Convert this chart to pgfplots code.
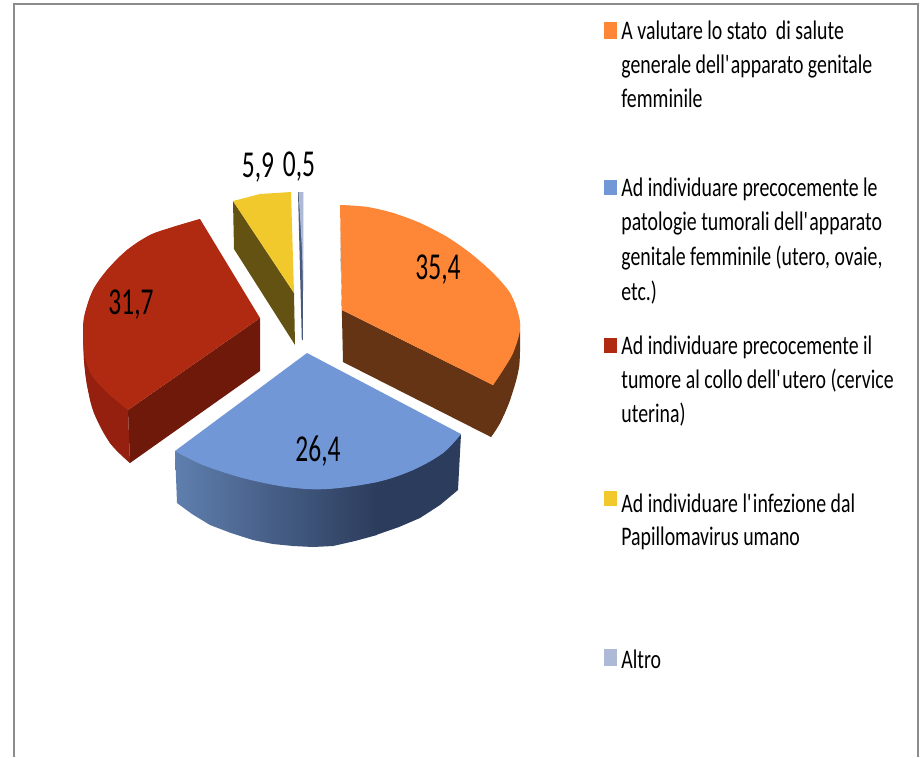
\documentclass[border=0pt]{standalone}
\usepackage{fontspec}
\usepackage{pgfplots}
\pgfplotsset{compat=1.18}
\setmainfont{Carlito}[FakeStretch=0.67]
\newfontfamily\legfont{Carlito}[FakeStretch=0.74]

\definecolor{orangetop}{HTML}{FE8637}
\definecolor{orangeside}{HTML}{653415}
\definecolor{bluetop}{HTML}{7297D7}
\definecolor{bluelight}{HTML}{5F7FAE}
\definecolor{bluemid}{HTML}{445880}
\definecolor{bluedark}{HTML}{2C3C5C}
\definecolor{redtop}{HTML}{B02A12}
\definecolor{redside}{HTML}{6F190A}
\definecolor{redouter}{HTML}{952010}
\definecolor{yellowtop}{HTML}{F2C92C}
\definecolor{yellowside}{HTML}{635211}
\definecolor{altrotop}{HTML}{AEB9D8}
\definecolor{altroside}{HTML}{4A5A7A}

\tikzset{
  poly/.style={fill=#1, draw=none},
  arc/.style={fill=#1, draw=none, smooth, tension=0.6},
  leg/.style={anchor=base west, inner sep=0pt, font=\legfont\fontsize{13.4}{15}\selectfont},
  val/.style={anchor=center, inner sep=0pt, font=\fontsize{19}{20}\selectfont},
}

\begin{document}
\begin{tikzpicture}
\begin{axis}[
    scale only axis,
    width=460.5pt,
    height=378.5pt,
    xmin=0, xmax=921,
    ymin=0, ymax=757,
    y dir=reverse,
    hide axis,
]
% hidden axis gives no bounding box, so keep the full page
\path (axis cs:0,0) rectangle (axis cs:921,757);

% frame, open at the bottom
\addplot[color=gray!90, line width=0.8pt] coordinates {(14,757) (14,4) (918,4) (918,757)};

% red
\addplot[poly=redouter] coordinates {(83,330) (84,360) (87,385) (94,413) (110,443) (130,463) (128,410)} --cycle;
\addplot[arc=redouter] coordinates {(83,330) (84,360) (87,385) (94,413) (110,443) (130,463)};
\addplot[poly=redside] coordinates {(128,410) (260,318) (260,371) (130,463)} --cycle;
\addplot[poly=redtop] coordinates {(260,318) (200,219) (173,227) (150,235) (127,250) (107,270) (93,290) (85,313) (83,330) (85,357) (93,377) (110,395) (128,410)} --cycle;
\addplot[arc=redtop] coordinates {(200,219) (173,227) (150,235) (127,250) (107,270) (93,290) (85,313) (83,330) (85,357) (93,377) (110,395) (128,410)};

% yellow
\addplot[poly=yellowside] coordinates {(233,201) (294,293) (295,345) (234,249)} --cycle;
\addplot[poly=yellowtop] coordinates {(233,201) (260,194) (291,192) (294,293)} --cycle;

% altro
\addplot[poly=altroside] coordinates {(298,192) (303,192) (303,290) (302.8,340) (301.8,340)} --cycle;
\addplot[poly=altrotop] coordinates {(298.5,192) (303,192) (303,290) (302,250)} --cycle;

% orange
\addplot[poly=orangeside] coordinates {(340,228) (343,362) (491,437) (500,423) (510,400) (519,367) (520,330) (493,385) (342,310)} --cycle;
\addplot[arc=orangeside] coordinates {(491,437) (500,423) (510,400) (519,367) (520,330)};
\addplot[poly=orangetop] coordinates {(342,310) (340,205) (367,207) (393,213) (420,223) (447,237) (470,253) (493,273) (510,293) (518,313) (520,330) (513,353) (503,370) (493,385)} --cycle;
\addplot[arc=orangetop] coordinates {(340,205) (367,207) (393,213) (420,223) (447,237) (470,253) (493,273) (510,293) (518,313) (520,330) (513,353) (503,370) (493,385)};

% blue
\addplot[left color=bluelight, middle color=bluemid, right color=bluedark, draw=none]
  coordinates {(175,451) (177,503) (192,514) (210,525) (231,533) (253,540) (273,544) (293,546) (313,547) (333,546) (355,541) (377,535) (377,470)} --cycle;
\addplot[poly=bluedark] coordinates {(376,470) (376,535) (399,527) (420,518) (440,505) (458,490) (461,434)} --cycle;
\addplot[poly=bluetop] coordinates {(307,353) (461,434) (443,453) (413,470) (377,482) (327,489) (287,487) (243,478) (203,465) (175,451)} --cycle;
\addplot[arc=bluetop] coordinates {(461,434) (443,453) (413,470) (377,482) (327,489) (287,487) (243,478) (203,465) (175,451)};

% legend swatches
\addplot[poly=orangetop] coordinates {(604,22) (617,22) (617,39) (604,39)} --cycle;
\addplot[poly=bluetop] coordinates {(604,180) (617,180) (617,195) (604,195)} --cycle;
\addplot[poly=redtop] coordinates {(604,338) (617,338) (617,353) (604,353)} --cycle;
\addplot[poly=yellowtop] coordinates {(604,491) (617,491) (617,506) (604,506)} --cycle;
\addplot[poly=altrotop] coordinates {(604,649) (617,649) (617,666) (604,666)} --cycle;

\node[val] at (axis cs:438,270) {35,4};
\node[val] at (axis cs:318,451) {26,4};
\node[val] at (axis cs:131,305) {31,7};
\node[val] at (axis cs:258,168) {5,9};
\node[val] at (axis cs:299,167) {0,5};

\node[leg] at (axis cs:621,39) {A valutare lo stato\ \ di salute};
\node[leg] at (axis cs:621,73) {generale dell\textquotesingle apparato genitale};
\node[leg] at (axis cs:621,107) {femminile};
\node[leg] at (axis cs:621,196) {Ad individuare precocemente le};
\node[leg] at (axis cs:621,230) {patologie tumorali dell\textquotesingle apparato};
\node[leg] at (axis cs:621,265) {genitale femminile (utero, ovaie,};
\node[leg] at (axis cs:621,300) {etc.)};
\node[leg] at (axis cs:621,354) {Ad individuare precocemente il};
\node[leg] at (axis cs:621,388) {tumore al collo dell\textquotesingle utero (cervice};
\node[leg] at (axis cs:621,422) {uterina)};
\node[leg] at (axis cs:621,512) {Ad individuare l\textquotesingle infezione dal};
\node[leg] at (axis cs:621,545) {Papillomavirus umano};
\node[leg] at (axis cs:621,668) {Altro};
\end{axis}
\end{tikzpicture}
\end{document}
